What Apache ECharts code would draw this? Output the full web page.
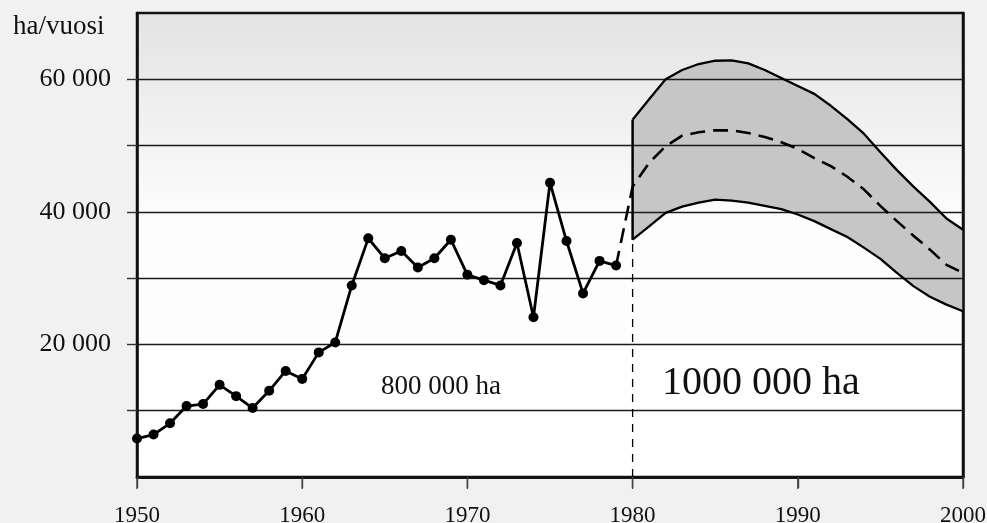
<!DOCTYPE html>
<html>
<head>
<meta charset="utf-8">
<script src="https://cdn.jsdelivr.net/npm/echarts@6/dist/echarts.min.js"></script>
<style>
  html, body { margin: 0; padding: 0; background: #f1f1f1; }
  #main { width: 987px; height: 523px; }
</style>
</head>
<body>
<div id="main"></div>
<script>
// historical clearing per year (ha/vuosi)
var histYears = [1950,1951,1952,1953,1954,1955,1956,1957,1958,1959,1960,1961,1962,1963,1964,
                 1965,1966,1967,1968,1969,1970,1971,1972,1973,1974,1975,1976,1977,1978,1979];
var histValues = [5800,6400,8100,10700,11000,13900,12200,10400,13000,16000,14800,18800,20300,28900,36000,
                  33000,34100,31600,33000,35800,30500,29700,28900,35300,24100,44400,35600,27700,32600,31900];

// forecast 1980-2000
var fcYears = [1980,1981,1982,1983,1984,1985,1986,1987,1988,1989,1990,
               1991,1992,1993,1994,1995,1996,1997,1998,1999,2000];
var fcMid = [43800,47400,49900,51500,52000,52300,52300,51900,51300,50500,49500,
             48100,46900,45300,43400,40900,38600,36400,34300,32000,30800];
var fcUpper = [53900,57000,60000,61400,62300,62800,62850,62400,61400,60200,59000,
               57800,56000,54000,51800,49000,46300,43800,41500,39000,37300];
var fcLower = [35800,37800,39850,40800,41400,41850,41700,41400,40900,40400,39600,
               38600,37400,36200,34600,32900,30800,28800,27200,26000,25000];

var yLabelValues = [20000, 40000, 60000];
var yTickValues = [10000, 20000, 30000, 40000, 50000, 60000];
var xTickValues = [1950, 1960, 1970, 1980, 1990, 2000];

function pairs(xs, ys) {
    return xs.map(function (x, i) { return [x, ys[i]]; });
}
var serif = '"Liberation Serif", "DejaVu Serif", serif';

var chart = echarts.init(document.getElementById('main'));
var option = {
    backgroundColor: '#f1f1f1',
    animation: false,
    grid: {
        left: 137, right: 24, top: 13, bottom: 46,
        outerBoundsMode: 'none',
        show: true,
        borderColor: '#111',
        borderWidth: 2.5,
        backgroundColor: new echarts.graphic.LinearGradient(0, 0, 0, 1, [
            {offset: 0, color: '#e3e3e3'},
            {offset: 0.45, color: '#fdfdfd'},
            {offset: 1, color: '#ffffff'}
        ])
    },
    xAxis: [{
        type: 'value',
        min: 1950, max: 2000, interval: 10,
        z: 3,
        axisLine: {show: true, lineStyle: {color: '#111', width: 2.5}},
        axisTick: {show: true, length: 11, lineStyle: {color: '#444', width: 1.4}},
        splitLine: {show: false},
        axisLabel: {
            margin: 27,
            fontFamily: serif, fontSize: 23, color: '#111',
            formatter: function (v) { return String(v); }
        }
    }, {
        type: 'value', position: 'top',
        min: 1950, max: 2000, z: 3,
        axisLine: {show: true, lineStyle: {color: '#111', width: 2.5}},
        axisTick: {show: false}, axisLabel: {show: false}, splitLine: {show: false}
    }],
    yAxis: [{
        type: 'value',
        min: 0, max: 70000, interval: 10000,
        z: 3,
        axisLine: {show: true, lineStyle: {color: '#111', width: 2.5}},
        axisTick: {show: true, length: 10, customValues: yTickValues,
                   lineStyle: {color: '#333', width: 1.4}},
        splitLine: {show: true, lineStyle: {color: '#1a1a1a', width: 1.3}},
        axisLabel: {
            margin: 26,
            fontFamily: serif, fontSize: 26, color: '#111',
            formatter: function (v) {
                if (yLabelValues.indexOf(v) < 0) return '';
                return String(v).replace(/\B(?=(\d{3})+(?!\d))/g, ' ');
            }
        }
    }, {
        type: 'value', position: 'right',
        min: 0, max: 70000, z: 3,
        axisLine: {show: true, lineStyle: {color: '#111', width: 2.5}},
        axisTick: {show: false}, axisLabel: {show: false}, splitLine: {show: false}
    }],
    graphic: [
        {type: 'text', left: 13, top: 13, z: 10,
         style: {text: 'ha/vuosi', font: '27px ' + serif, fill: '#111'}},
        {type: 'text', left: 381, top: 373, z: 10,
         style: {text: '800 000 ha', font: '27px ' + serif, fill: '#111'}},
        {type: 'text', left: 662, top: 363, z: 10,
         style: {text: '1000 000 ha', font: '40px ' + serif, fill: '#111'}}
    ],
    series: [
        {
            name: 'band', type: 'custom', z: 1, silent: true,
            data: [0],
            renderItem: function (params, api) {
                var pts = [];
                for (var i = 0; i < fcYears.length; i++) {
                    pts.push(api.coord([fcYears[i], fcUpper[i]]));
                }
                for (var j = fcYears.length - 1; j >= 0; j--) {
                    pts.push(api.coord([fcYears[j], fcLower[j]]));
                }
                return {
                    type: 'polygon',
                    shape: {points: pts},
                    style: {fill: '#c6c6c6', stroke: 'none'}
                };
            }
        },
        {
            // year ticks below the x axis
            name: 'xticks', type: 'custom', z: 3, silent: true, clip: false,
            data: xTickValues.map(function (x) { return [x, 0]; }),
            encode: {x: 0, y: 1},
            renderItem: function (params, api) {
                var p = api.coord([api.value(0), 0]);
                return {
                    type: 'line',
                    shape: {x1: p[0], y1: p[1] + 1, x2: p[0], y2: p[1] + 12},
                    style: {stroke: '#444', lineWidth: 1.4}
                };
            }
        },
        {
            name: 'upper', type: 'line', z: 5,
            data: pairs(fcYears, fcUpper),
            symbol: 'none', lineStyle: {color: '#000', width: 2.3}
        },
        {
            name: 'lower', type: 'line', z: 5,
            data: pairs(fcYears, fcLower),
            symbol: 'none', lineStyle: {color: '#000', width: 2.3}
        },
        {
            name: 'edge', type: 'line', z: 5,
            data: [[fcYears[0], fcLower[0]], [fcYears[0], fcUpper[0]]],
            symbol: 'none', lineStyle: {color: '#000', width: 2.5}
        },
        {
            name: 'divider', type: 'line', z: 5,
            data: [[fcYears[0], 0], [fcYears[0], fcLower[0]]],
            symbol: 'none', lineStyle: {color: '#000', width: 1.3, type: [8, 7]}
        },
        {
            name: 'mid', type: 'line', z: 6,
            data: [[histYears[histYears.length - 1], histValues[histValues.length - 1]]]
                .concat(pairs(fcYears, fcMid)),
            symbol: 'none', lineStyle: {color: '#000', width: 2.6, type: [15, 8]}
        },
        {
            name: 'history', type: 'line', z: 7,
            data: pairs(histYears, histValues),
            symbol: 'circle', symbolSize: 10,
            itemStyle: {color: '#000'},
            lineStyle: {color: '#000', width: 2.8}
        }
    ]
};
chart.setOption(option);
</script>
</body>
</html>
